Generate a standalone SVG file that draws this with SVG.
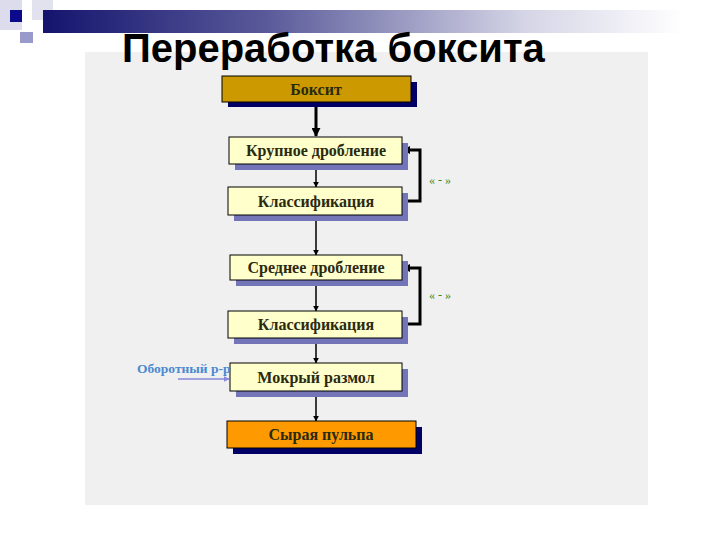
<svg xmlns="http://www.w3.org/2000/svg" width="720" height="540" viewBox="0 0 720 540">
<defs>
<linearGradient id="bar" x1="0" y1="0" x2="1" y2="0">
<stop offset="0" stop-color="#14146e"/>
<stop offset="0.35" stop-color="#5a5a9a"/>
<stop offset="0.75" stop-color="#d4d4e6"/>
<stop offset="1" stop-color="#ffffff"/>
</linearGradient>
<marker id="ah" viewBox="0 0 10 10" refX="9" refY="5" markerWidth="4" markerHeight="4" orient="auto">
<path d="M0,0 L10,5 L0,10 z" fill="#000"/>
</marker>
<marker id="ahb" viewBox="0 0 10 10" refX="9" refY="5" markerWidth="3" markerHeight="3" orient="auto">
<path d="M0,0 L10,5 L0,10 z" fill="#000"/>
</marker>
<marker id="ahl" viewBox="0 0 10 10" refX="9" refY="5" markerWidth="4" markerHeight="4" orient="auto">
<path d="M0,0 L10,5 L0,10 z" fill="#8888dd"/>
</marker>
</defs>
<style>
.box{fill:#FFFFCC;stroke:#000;stroke-width:1}
.sh{fill:#7474B8}
.shd{fill:#000066}
.t{font-family:"Liberation Serif","Times New Roman",serif;font-weight:bold;font-size:16px;fill:#2a2a10;text-anchor:middle}
.c{stroke:#000;stroke-width:1.5;fill:none}
.fb{stroke:#000;stroke-width:3;fill:none}
.g{font-family:"Liberation Serif",serif;font-size:12px;fill:#2a8a2a}
</style>
<rect width="720" height="540" fill="#fff"/>
<!-- decoration -->
<rect x="0" y="0" width="22" height="30" fill="#dcdcec"/>
<rect x="32" y="0" width="21" height="20" fill="#e2e2ee"/>
<rect x="43" y="10" width="640" height="23" fill="url(#bar)"/>
<rect x="10" y="10" width="12" height="12" fill="#0a0a8a"/>
<rect x="20" y="32" width="13" height="11" fill="#9999cc"/>
<rect x="85" y="52" width="563" height="453" fill="#f0f0f0"/>
<text x="122" y="62" font-family="'Liberation Sans',Arial,sans-serif" font-weight="bold" font-size="40" fill="#000">Переработка боксита</text>

<g id="connectors">
<line class="fb" x1="316" y1="102" x2="316" y2="136" marker-end="url(#ahb)"/>
<line class="c" x1="316" y1="164" x2="316" y2="187" marker-end="url(#ah)"/>
<line class="c" x1="316" y1="215" x2="316" y2="255" marker-end="url(#ah)"/>
<line class="c" x1="316" y1="280" x2="316" y2="311" marker-end="url(#ah)"/>
<line class="c" x1="316" y1="338" x2="316" y2="363" marker-end="url(#ah)"/>
<line class="c" x1="316" y1="391" x2="316" y2="421" marker-end="url(#ah)"/>
<polyline class="fb" points="402,201 420,201 420,150 410,150"/>
<path d="M402,150 L410,146 L410,154 z" fill="#000"/>
<polyline class="fb" points="402,324 420,324 420,268 410,268"/>
<path d="M402,268 L410,264 L410,272 z" fill="#000"/>
<line x1="178" y1="379" x2="229" y2="379" stroke="#8888dd" stroke-width="1.5" marker-end="url(#ahl)"/>
<text class="g" x="429" y="184">« - »</text>
<text class="g" x="429" y="299">« - »</text>
</g>

<g id="boksit">
<rect class="shd" x="228" y="82" width="189" height="25"/>
<rect x="222" y="76" width="189" height="26" fill="#CC9900" stroke="#000"/>
<text class="t" x="316" y="95">Боксит</text>
</g>
<g id="krupnoe">
<rect class="sh" x="235" y="143" width="173" height="27"/>
<rect class="box" x="229" y="137" width="173" height="27"/>
<text class="t" x="316" y="156">Крупное дробление</text>
</g>
<g id="klass1">
<rect class="sh" x="234" y="193" width="174" height="28"/>
<rect class="box" x="228" y="187" width="174" height="28"/>
<text class="t" x="316" y="207">Классификация</text>
</g>
<g id="srednee">
<rect class="sh" x="236" y="261" width="172" height="25"/>
<rect class="box" x="230" y="255" width="172" height="25"/>
<text class="t" x="316" y="273">Среднее дробление</text>
</g>
<g id="klass2">
<rect class="sh" x="234" y="317" width="174" height="27"/>
<rect class="box" x="228" y="311" width="174" height="27"/>
<text class="t" x="316" y="330">Классификация</text>
</g>
<g id="mokry">
<rect class="sh" x="236" y="369" width="172" height="28"/>
<rect class="box" x="230" y="363" width="172" height="28"/>
<text class="t" x="316" y="383">Мокрый размол</text>
</g>
<g id="pulpa">
<rect class="shd" x="233" y="427" width="189" height="27"/>
<rect x="227" y="421" width="189" height="27" fill="#FF9900" stroke="#000"/>
<text class="t" x="321" y="440">Сырая пульпа</text>
</g>
<g id="oborot-label">
<text x="137" y="373" font-family="'Liberation Serif',serif" font-weight="bold" font-size="13.5" fill="#4a8ad0">Оборотный р-р</text>
</g>
</svg>
